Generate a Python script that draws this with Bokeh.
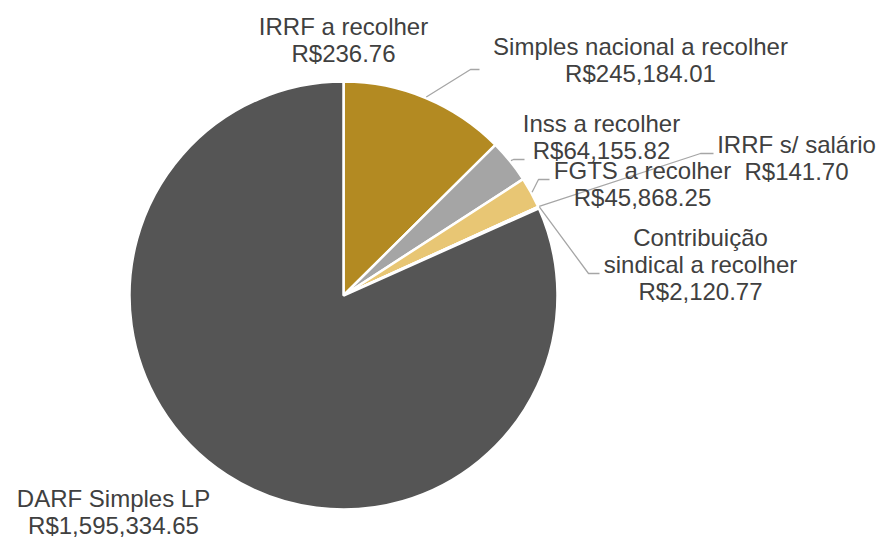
import math
from bokeh.plotting import figure
from bokeh.models import Range1d
from bokeh.embed import file_html
from bokeh.resources import INLINE
from bokeh.core.properties import value

# ---- data ----
categories = ["IRRF a recolher", "Simples nacional a recolher", "Inss a recolher",
              "FGTS a recolher", "IRRF s/ salário", "Contribuição sindical a recolher",
              "DARF Simples LP"]
values = [236.76, 245184.01, 64155.82, 45868.25, 141.70, 2120.77, 1595334.65]

# ---- style / layout ----
colors = ["#7F7F7F", "#B38A22", "#A5A5A5", "#E8C674", "#8C6D1F", "#C9C9C9", "#555555"]
label_lines = [["IRRF a recolher"], ["Simples nacional a recolher"], ["Inss a recolher"],
               ["FGTS a recolher"], ["IRRF s/ salário"], ["Contribuição", "sindical a recolher"],
               ["DARF Simples LP"]]
# label centre x and first baseline (reference pixel coords)
label_pos = [(343, 35), (640, 55), (601, 132), (642, 179), (796, 153), (700, 246), (113, 507)]
# leader elbows/ends (reference pixel coords); None = no leader
leaders = [None, [(470, 69), (479, 69)], [(513, 159), (524, 159)], [(538, 179), (549, 179)],
           [(700, 153), (713, 153)], [(588, 273), (599, 273)], None]
LINE_H = 27
TEXT_DY = -9
CX, CY, R = 343, 295, 214

W, H = 879, 539
def X(xr): return xr
def Y(yr): return H - yr

p = figure(width=W, height=H, output_backend="svg", toolbar_location=None,
           x_range=Range1d(0, W), y_range=Range1d(0, H),
           x_axis_location=None, y_axis_location=None, min_border=0)
p.outline_line_color = None
p.grid.visible = False
p.background_fill_color = "white"

total = sum(values)
cum = 0.0
starts, ends, mids = [], [], []
for v in values:
    a0 = cum / total
    cum += v
    a1 = cum / total
    starts.append(math.pi / 2 - a0 * 2 * math.pi)
    ends.append(math.pi / 2 - a1 * 2 * math.pi)
    mids.append((a0 + a1) / 2 * 2 * math.pi)  # clockwise from top

p.wedge(x=[X(CX)] * len(values), y=[Y(CY)] * len(values), radius=R,
        start_angle=starts, end_angle=ends, direction="clock",
        fill_color=colors, line_color="white", line_width=2.5)

# leader lines
for i, ld in enumerate(leaders):
    if ld is None:
        continue
    m = mids[i]
    sx = CX + (R + 1) * math.sin(m)
    sy = CY - (R + 1) * math.cos(m)
    xs = [X(sx)] + [X(a) for a, b in ld]
    ys = [Y(sy)] + [Y(b) for a, b in ld]
    p.line(xs, ys, line_color="#A6A6A6", line_width=1.3)

# labels
for i, lines in enumerate(label_lines):
    all_lines = lines + ["R${:,.2f}".format(values[i])]
    cx, by = label_pos[i]
    p.text(x=[X(cx)] * len(all_lines),
           y=[Y(by + TEXT_DY + k * LINE_H) for k in range(len(all_lines))],
           text=all_lines, text_align="center", text_baseline="alphabetic",
           text_font=value("Liberation Sans"), text_font_size="24px",
           text_color="#404040")

open("out.html", "w").write(file_html(p, INLINE))
